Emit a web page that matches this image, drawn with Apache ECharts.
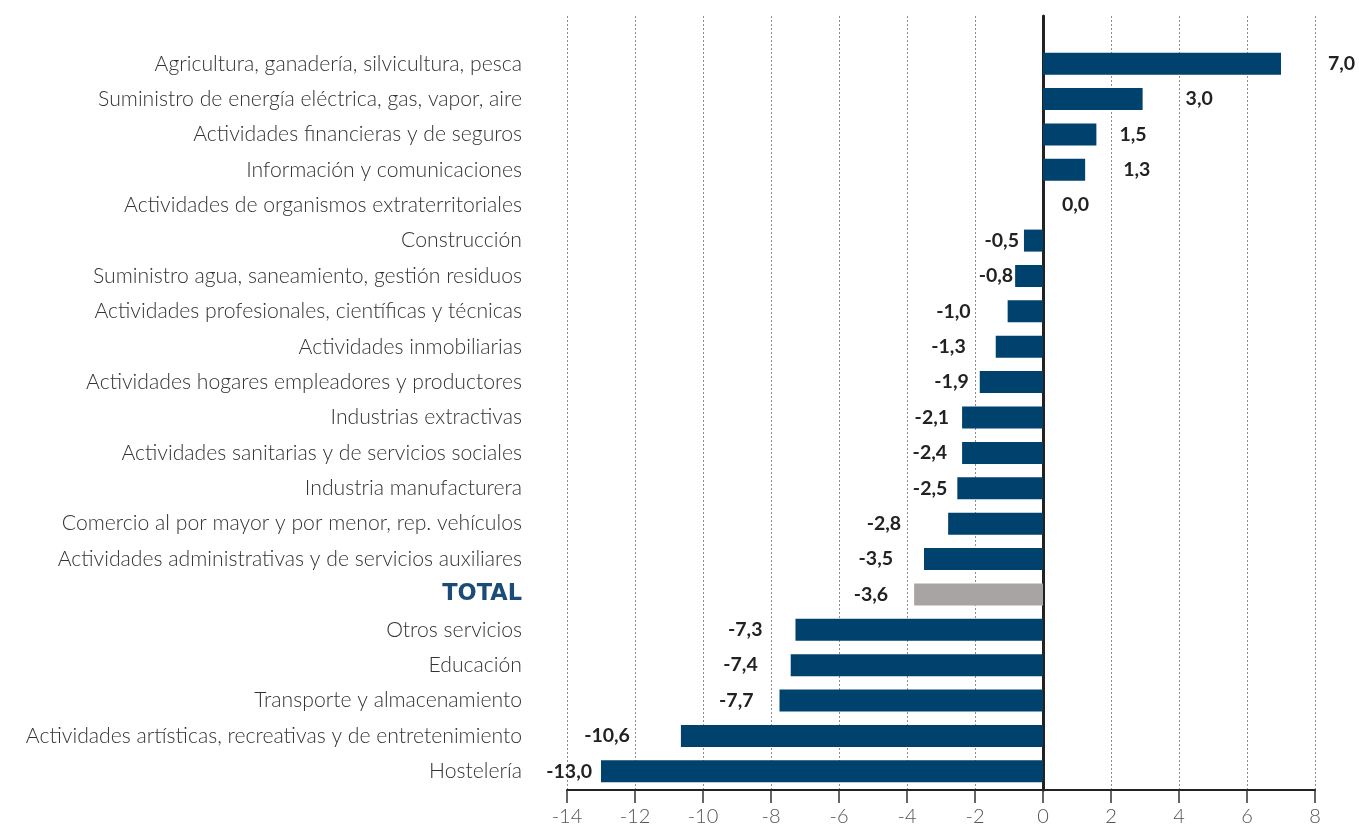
<!DOCTYPE html>
<html>
<head>
<meta charset="utf-8">
<title>Variación por actividad</title>
<script src="https://cdn.jsdelivr.net/npm/echarts@6/dist/echarts.min.js"></script>
<style>
  html, body { margin: 0; padding: 0; background: #fff; }
  #chart { width: 1359px; height: 828px; }
</style>
</head>
<body>
<div id="chart"></div>
<script>
// categorias, de arriba a abajo
const categories = [
  'Agricultura, ganadería, silvicultura, pesca',
  'Suministro de energía eléctrica, gas, vapor, aire',
  'Actividades financieras y de seguros',
  'Información y comunicaciones',
  'Actividades de organismos extraterritoriales',
  'Construcción',
  'Suministro agua, saneamiento, gestión residuos',
  'Actividades profesionales, científicas y técnicas',
  'Actividades inmobiliarias',
  'Actividades hogares empleadores y productores',
  'Industrias extractivas',
  'Actividades sanitarias y de servicios sociales',
  'Industria manufacturera',
  'Comercio al por mayor y por menor, rep. vehículos',
  'Actividades administrativas y de servicios auxiliares',
  'TOTAL',
  'Otros servicios',
  'Educación',
  'Transporte y almacenamiento',
  'Actividades artísticas, recreativas y de entretenimiento',
  'Hostelería'
];
// longitud de las barras tal como se ven en el grafico
const barValues = [7.0, 2.93, 1.57, 1.24, 0, -0.56, -0.82, -1.04, -1.39, -1.86, -2.38,
  -2.38, -2.52, -2.79, -3.5, -3.79, -7.28, -7.42, -7.75, -10.65, -13.0];
// valores rotulados
const labelValues = [7.0, 3.0, 1.5, 1.3, 0.0, -0.5, -0.8, -1.0, -1.3, -1.9, -2.1,
  -2.4, -2.5, -2.8, -3.5, -3.6, -7.3, -7.4, -7.7, -10.6, -13.0];
const xTicks = [-14, -12, -10, -8, -6, -4, -2, 0, 2, 4, 6, 8];

// separacion de cada rotulo respecto al final de su barra (px)
const labelGap = [47, 43, 23, 38, 19, 5, 2, 37, 30, 11, 13, 15, 10, 47, 31, 26, 33, 33, 26, 51, 9];

const blue = '#00426e';
const grey = '#a8a4a4';
const font = 'Lato';

const fmt = v => v.toFixed(1).replace('.', ',');

const chart = echarts.init(document.getElementById('chart'));

const seriesData = barValues.map((v, i) => ({
  value: v,
  itemStyle: { color: categories[i] === 'TOTAL' ? grey : blue },
  label: {
    position: v > 0 || (v === 0 && labelValues[i] >= 0) ? 'right' : 'left',
    distance: labelGap[i]
  }
}));

chart.setOption({
  animation: false,
  grid: [
    // rejilla y eje de valores
    { left: 567, right: 44, top: 16, bottom: 38 },
    // barras
    { left: 567, right: 44, top: 46, bottom: 39 }
  ],
  xAxis: [
    {
      gridIndex: 0,
      type: 'value',
      min: xTicks[0],
      max: xTicks[xTicks.length - 1],
      interval: 2,
      axisLine: { show: true, onZero: false, lineStyle: { color: '#222', width: 2 } },
      axisTick: { show: true, length: 13, lineStyle: { color: '#333', width: 1.5 } },
      axisLabel: { margin: 17, fontFamily: font, fontSize: 20, fontWeight: 300, color: '#555' },
      splitLine: { show: true, lineStyle: { color: '#8c8c8c', width: 1, type: [2, 2] } }
    },
    {
      gridIndex: 1,
      type: 'value',
      min: xTicks[0],
      max: xTicks[xTicks.length - 1],
      show: false
    }
  ],
  yAxis: [
    {
      // linea del cero
      gridIndex: 0,
      type: 'value',
      min: 0,
      max: 1,
      axisLine: { show: true, onZero: true, lineStyle: { color: '#222', width: 3 } },
      axisTick: { show: false },
      axisLabel: { show: false },
      splitLine: { show: false }
    },
    {
      gridIndex: 1,
      type: 'category',
      inverse: true,
      data: categories,
      axisLine: { show: false },
      axisTick: { show: false },
      axisLabel: {
        margin: 45,
        fontFamily: font,
        fontSize: 21.2,
        fontWeight: 300,
        color: '#333',
        formatter: v => v === 'TOTAL' ? '{t|TOTAL}' : v,
        rich: {
          t: { fontFamily: 'DejaVu Sans', fontSize: 22.5, fontWeight: 'bold', color: '#1b4b78' }
        }
      }
    }
  ],
  series: [
    {
      type: 'bar',
      xAxisIndex: 1,
      yAxisIndex: 1,
      barWidth: 22,
      data: seriesData,
      label: {
        show: true,
        fontFamily: font,
        fontSize: 19.5,
        fontWeight: 'bold',
        color: '#222',
        formatter: p => fmt(labelValues[p.dataIndex])
      }
    }
  ]
});
</script>
</body>
</html>
